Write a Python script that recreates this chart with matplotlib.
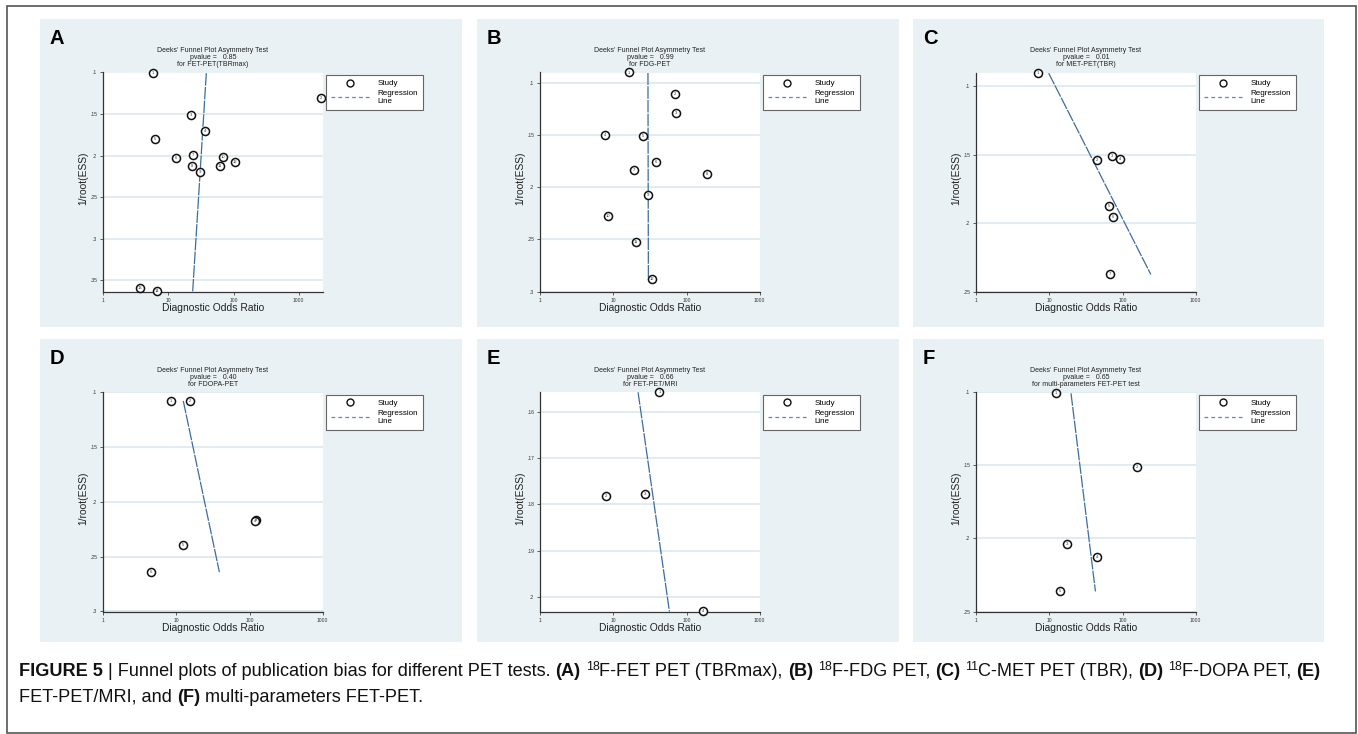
import matplotlib
matplotlib.use('Agg')
import matplotlib.pyplot as plt
from matplotlib.lines import Line2D
from matplotlib.patches import Rectangle
from matplotlib import font_manager

W, H = 1358, 734

# ---- data (DOR, 1/root(ESS)) ----
a_dor = [5.8, 2200, 22.5, 36.8, 6.3, 12.9, 24.1, 23.3, 30.9, 69.5, 61, 107, 3.64, 6.7]
a_ess = [.1008, .1305, .151, .170, .180, .203, .199, .2125, .220, .202, .212, .208, .359, .363]
a_reg_dor = [38.2, 23.6]
a_reg_ess = [.1008, .363]

b_dor = [16.2, 68.8, 71.8, 7.75, 25.4, 37.8, 19.3, 190.6, 29.7, 8.5, 20.4, 33.3]
b_ess = [.0904, .1111, .1287, .1503, .151, .1761, .1834, .1876, .2076, .2277, .2525, .2882]
b_reg_dor = [29.6, 30.0]
b_reg_ess = [.0904, .2882]

c_dor = [6.98, 44.7, 71.8, 93.3, 64.6, 74.1, 66.7]
c_ess = [.0900, .154, .1513, .1528, .1876, .1956, .2374]
c_reg_dor = [9.76, 242.6]
c_reg_ess = [.0905, .2374]

d_dor = [8.43, 15.2, 122.5, 118.8, 12.4, 4.44]
d_ess = [.1079, .1079, .2167, .2173, .2395, .2641]
d_reg_dor = [12.4, 38.6]
d_reg_ess = [.1079, .2641]

e_dor = [42.5, 7.83, 27.0, 169.8]
e_ess = [.1558, .1782, .1777, .2031]
e_reg_dor = [21.7, 58.2]
e_reg_ess = [.1558, .2031]

f_dor = [12.3, 156, 17.4, 44.7, 14.1]
f_ess = [.1007, .1508, .2037, .2129, .2363]
f_reg_dor = [19.7, 42.5]
f_reg_ess = [.1007, .2363]

letters = ['A', 'B', 'C', 'D', 'E', 'F']
tests = ['FET-PET(TBRmax)', 'FDG-PET', 'MET-PET(TBR)', 'FDOPA-PET', 'FET-PET/MRI',
         'multi-parameters FET-PET test']
pvalues = ['0.85', '0.99', '0.01', '0.40', '0.66', '0.65']
yticks = [[.1, .15, .2, .25, .3, .35], [.1, .15, .2, .25, .3], [.1, .15, .2, .25],
          [.1, .15, .2, .25, .3], [.16, .17, .18, .19, .2], [.1, .15, .2, .25]]
ytick_labels = [['.1', '.15', '.2', '.25', '.3', '.35'], ['.1', '.15', '.2', '.25', '.3'],
                ['.1', '.15', '.2', '.25'], ['.1', '.15', '.2', '.25', '.3'],
                ['.16', '.17', '.18', '.19', '.2'], ['.1', '.15', '.2', '.25']]
ylims = [(.3635, .1), (.3, .0904), (.25, .090), (.3, .1), (.2031, .1558), (.25, .1)]
xmax = [2350, 1000, 1000, 1000, 1000, 1000]
xticks = [1, 10, 100, 1000]
xtick_labels = ['1', '10', '100', '1000']

points = [(a_dor, a_ess), (b_dor, b_ess), (c_dor, c_ess),
          (d_dor, d_ess), (e_dor, e_ess), (f_dor, f_ess)]
reglines = [(a_reg_dor, a_reg_ess), (b_reg_dor, b_reg_ess), (c_reg_dor, c_reg_ess),
            (d_reg_dor, d_reg_ess), (e_reg_dor, e_reg_ess), (f_reg_dor, f_reg_ess)]

# ---- styling ----
BG = '#e9f1f4'
GRID = '#e1ecf0'
REG = '#3d6c9e'
names = {f.name for f in font_manager.fontManager.ttflist}
SANS = 'Liberation Sans' if 'Liberation Sans' in names else 'DejaVu Sans'
NARROW = 'Liberation Sans Narrow' if 'Liberation Sans Narrow' in names else SANS
plt.rcParams['font.family'] = [SANS, 'DejaVu Sans']


def fx(px):
    return px / W


def fy(py):
    return 1 - py / H


fig = plt.figure(figsize=(W / 100, H / 100), dpi=100)

# outer frame
fig.patches.append(Rectangle((fx(7), fy(733)), fx(1356) - fx(7), fy(6) - fy(733),
                             transform=fig.transFigure, fill=False, ec='#555555', lw=1.2,
                             zorder=-5))

panel_x = [40, 477, 913]
panel_w = [422, 422, 411]
row_y = [19, 339]
row_h = [308, 303]
plot_top = [72.5, 392.3]
plot_h = 219.2
plot_w = 219.5

for i in range(6):
    r, c = divmod(i, 3)
    x0 = panel_x[c]
    fig.patches.append(Rectangle((fx(x0), fy(row_y[r] + row_h[r])), panel_w[c] / W, row_h[r] / H,
                                 transform=fig.transFigure, fc=BG, ec='none', zorder=-5))
    L = x0 + 63.3
    T = plot_top[r]
    ax = fig.add_axes([fx(L), fy(T + plot_h), plot_w / W, plot_h / H], zorder=2)
    ax.set_facecolor('white')
    ax.set_xscale('log')
    ax.set_xlim(1, xmax[i])
    ax.set_ylim(*ylims[i])
    ax.set_xticks(xticks)
    ax.set_xticklabels(xtick_labels)
    ax.minorticks_off()
    ax.set_yticks(yticks[i])
    ax.set_yticklabels(ytick_labels[i])
    for y in yticks[i]:
        ax.axhline(y, color=GRID, lw=1.4, zorder=0)
    ax.tick_params(labelsize=3.6, length=2.5, width=0.6, color='#444444', pad=2,
                   labelcolor='#333333')
    for s in ['top', 'right']:
        ax.spines[s].set_visible(False)
    for s in ['left', 'bottom']:
        ax.spines[s].set_color('#333333')
        ax.spines[s].set_linewidth(0.9)

    dor, ess = points[i]
    ax.plot(dor, ess, 'o', ms=5.8, mfc='white', mec='#111111', mew=1.1, clip_on=False, zorder=3)
    for k, (xv, yv) in enumerate(zip(dor, ess)):
        ax.text(xv, yv, str(k + 1), fontsize=3.0, ha='center', va='center', color='#333333',
                zorder=4, clip_on=False)
    rx, ry = reglines[i]
    ax.plot(rx, ry, color=REG, lw=0.9, dashes=(10, 1), zorder=2)

    # legend outside to the right
    handles = [Line2D([], [], marker='o', ls='none', ms=5, mfc='white', mec='#111111', mew=1.0),
               Line2D([], [], color='#5d8ab8', lw=0.9, dashes=(3, 2.5))]
    ax.legend(handles, ['Study', 'Regression\nLine'], loc='upper left',
              bbox_to_anchor=(fx(L + plot_w + 3), fy(T + 2.5)), bbox_transform=fig.transFigure,
              fontsize=5.8, frameon=True, fancybox=False, edgecolor='#666666', framealpha=1,
              handlelength=4.9, handletextpad=0.9, borderpad=0.6, labelspacing=0.35,
              borderaxespad=0).get_frame().set_linewidth(0.8)

    cx = L + plot_w / 2
    title_y = [T - 22, T - 15, T - 8]
    fig.text(fx(cx), fy(title_y[0]), "Deeks' Funnel Plot Asymmetry Test", fontsize=5.0,
             ha='center', va='center', color='#222222')
    fig.text(fx(cx), fy(title_y[1]), 'pvalue =   ' + pvalues[i], fontsize=5.0,
             ha='center', va='center', color='#222222')
    fig.text(fx(cx), fy(title_y[2]), 'for ' + tests[i], fontsize=5.0,
             ha='center', va='center', color='#222222')

    fig.text(fx(cx), fy(T + plot_h + 16.5), 'Diagnostic Odds Ratio', fontsize=7.4,
             ha='center', va='center', color='#222222')
    fig.text(fx(L - 20), fy(T + plot_h / 2 - 4), '1/root(ESS)', fontsize=7.4, rotation=90,
             ha='center', va='center', color='#222222')
    fig.text(fx(x0 + 10), fy(row_y[r] + 19), letters[i], fontsize=14.5, fontweight='bold',
             ha='left', va='center', color='black')

# ---- caption ----
line1 = [('FIGURE 5', 'b'), (' | Funnel plots of publication bias for different PET tests. ', 'n'),
         ('(A)', 'b'), (' ', 'n'), ('18', 's'), ('F-FET PET (TBRmax), ', 'n'),
         ('(B)', 'b'), (' ', 'n'), ('18', 's'), ('F-FDG PET, ', 'n'),
         ('(C)', 'b'), (' ', 'n'), ('11', 's'), ('C-MET PET (TBR), ', 'n'),
         ('(D)', 'b'), (' ', 'n'), ('18', 's'), ('F-DOPA PET, ', 'n'), ('(E)', 'b')]
line2 = [('FET-PET/MRI, and ', 'n'), ('(F)', 'b'), (' multi-parameters FET-PET.', 'n')]

renderer = fig.canvas.get_renderer()


def props(kind, size):
    if kind == 'b':
        return dict(fontsize=size, fontweight='bold', family=NARROW)
    if kind == 's':
        return dict(fontsize=size * 0.68, family=NARROW)
    return dict(fontsize=size, family=NARROW)


def width(s, kind, size):
    t1 = fig.text(0, 0, '|' + s + '|', **props(kind, size))
    t2 = fig.text(0, 0, '||', **props(kind, size))
    w = t1.get_window_extent(renderer).width - t2.get_window_extent(renderer).width
    t1.remove()
    t2.remove()
    return w


base = 11.0
total = sum(width(s, k, base) for s, k in line1)
size = base * 1306 / total


def draw_line(pieces, x, y):
    for s, k in pieces:
        dy = -6.5 if k == 's' else 0
        fig.text(fx(x), fy(y + dy), s, va='baseline', ha='left', color='#111111', **props(k, size))
        x += width(s, k, size)


draw_line(line1, 19, 676)
draw_line(line2, 19, 702)

fig.savefig('out.png', dpi=100)
